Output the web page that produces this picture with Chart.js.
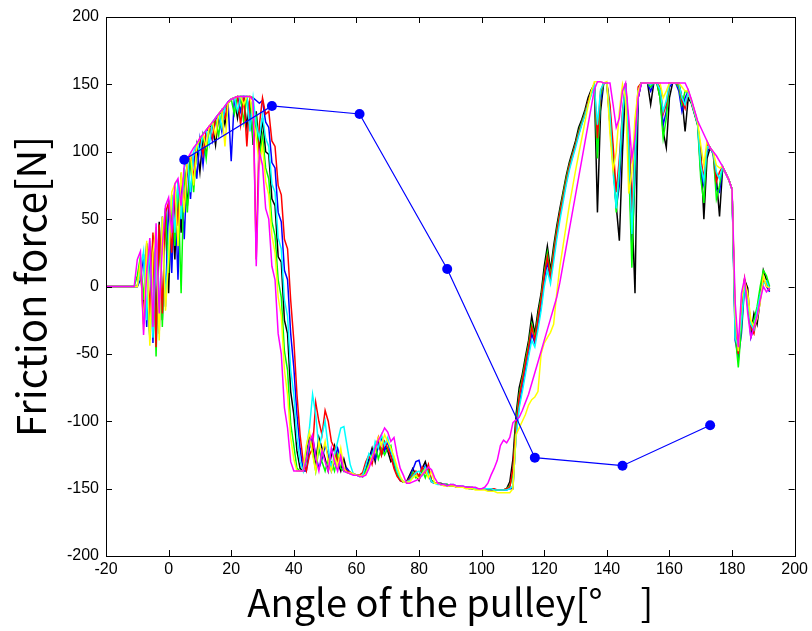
<!DOCTYPE html>
<html>
<head>
<meta charset="utf-8">
<script src="https://cdn.jsdelivr.net/npm/chart.js@4.4.1/dist/chart.umd.min.js"></script>
<style>
  html, body { margin: 0; padding: 0; background: #fff; }
  canvas { display: block; }
</style>
</head>
<body>
<canvas id="chartCanvas" width="812" height="631"></canvas>
<script>
// Angle grid shared by the measured runs: -20, -11, then every degree from -10 to 192
const angles = [-20, -11];
for (let a = -10; a <= 192; a++) angles.push(a);

// Friction force of each run [N], one value per angle (rows of 10 degrees)
const runBlack = [0, 0,
  0, 15, -20, 32, -38, 36, -30, 48, -25, 58,
  -5, 66, 20, 78, 40, 88, 60, 96, 75, 104,
  85, 112, 100, 118, 121, 105, 127, 131, 120, 136,
  139, 140, 125, 141, 141, 118, 141, 105, 130, 100,
  125, 100, 98, 65, 60, 22, 18, -25, -35, -78,
  -95, -122, -135, -137, -125, -110, -118, -130, -112, -120,
  -128, -137, -125, -118, -130, -137, -128, -137, -138, -139,
  -140, -140, -141, -135, -128, -120, -130, -115, -125, -118,
  -122, -130, -128, -138, -143, -145, -145, -140, -135, -140,
  -144, -135, -130, -138, -144, -146, -146, -146, -147, -147,
  -148, -148, -148, -149, -149, -149, -149, -150, -150, -150,
  -150, -150, -150, -151, -151, -151, -151, -151, -150, -145,
  -128, -95, -75, -65, -52, -40, -22, -35, -18, -5,
  15, 30, 12, 30, 45, 58, 70, 82, 92, 100,
  108, 118, 124, 131, 140, 146, 150, 55, 130, 151,
  151, 120, 90, 60, 34, 100, 150, 110, 60, -5,
  140, 151, 151, 151, 135, 151, 151, 140, 115, 103,
  140, 151, 151, 151, 140, 115, 140, 136, 128, 120,
  100, 50, 95, 103, 99, 80, 52, 88, 84, 79,
  72, -30, -55, -20, 5, -1, -35, -20, -28, -10,
  12, 5, -2];

const runBlue = [0, 0,
  0, 5, 24, -30, 30, -42, 40, -35, 52, -15,
  64, 10, 74, 5, 84, 35, 92, 65, 100, 80,
  109, 90, 115, 118, 108, 124, 127, 115, 133, 136,
  93, 140, 141, 130, 141, 141, 120, 140, 138, 136,
  138, 122, 118, 92, 88, 55, 48, 12, 5, -35,
  -60, -95, -120, -137, -137, -120, -112, -125, -135, -128,
  -118, -125, -137, -130, -120, -128, -137, -135, -138, -139,
  -140, -140, -141, -138, -130, -122, -128, -118, -112, -122,
  -115, -125, -133, -140, -144, -145, -145, -142, -136, -130,
  -129, -138, -133, -140, -145, -146, -146, -147, -147, -147,
  -148, -148, -149, -149, -149, -149, -150, -150, -150, -150,
  -150, -150, -151, -151, -151, -151, -151, -151, -151, -150,
  -150, -110, -88, -75, -62, -50, -35, -42, -28, -15,
  5, 18, 5, 22, 38, 52, 65, 77, 88, 96,
  105, 113, 121, 128, 136, 143, 149, 100, 138, 151,
  151, 130, 95, 58, 75, 120, 150, 100, 29, 80,
  140, 151, 151, 151, 145, 151, 151, 145, 120, 130,
  148, 151, 151, 145, 130, 140, 145, 137, 129, 121,
  85, 75, 100, 103, 98, 72, 70, 88, 84, 79,
  72, -40, -52, -35, 0, -10, -38, -30, -22, -5,
  6, 0, -4];

const runGreen = [0, 0,
  8, 22, -10, 28, -40, 38, -52, 44, -30, 56,
  10, 68, 30, 76, -5, 88, 55, 96, 70, 104,
  108, 113, 95, 119, 121, 124, 112, 130, 133, 137,
  139, 128, 141, 141, 122, 141, 141, 110, 125, 95,
  112, 88, 80, 48, 38, 5, -8, -48, -62, -102,
  -118, -135, -137, -137, -130, -115, -122, -137, -120, -130,
  -137, -128, -130, -137, -125, -135, -137, -138, -139, -139,
  -140, -141, -141, -137, -132, -125, -118, -128, -120, -125,
  -120, -118, -130, -139, -143, -145, -145, -144, -138, -142,
  -140, -136, -142, -135, -144, -146, -146, -147, -147, -147,
  -148, -148, -148, -148, -149, -149, -149, -150, -150, -150,
  -150, -150, -150, -150, -151, -151, -151, -151, -150, -148,
  -140, -100, -80, -68, -55, -43, -28, -38, -22, -8,
  10, 25, 8, 26, 42, 55, 68, 80, 90, 98,
  106, 115, 122, 129, 137, 144, 150, 95, 142, 151,
  151, 125, 100, 55, 85, 125, 151, 90, 14, 90,
  145, 151, 151, 151, 148, 151, 151, 140, 110, 125,
  151, 151, 151, 148, 135, 145, 144, 137, 129, 120,
  80, 62, 105, 103, 99, 65, 75, 89, 84, 79,
  72, -35, -60, -30, 2, -15, -32, -25, -15, 0,
  12, 8, 0];

const runRed = [0, 0,
  0, 18, -28, 30, -20, 40, -45, 46, -20, 55,
  62, 25, 72, 45, 82, 60, 92, 98, 80, 105,
  110, 98, 116, 119, 110, 125, 128, 131, 125, 137,
  139, 140, 141, 120, 141, 104, 141, 140, 20, 120,
  140, 128, 130, 108, 104, 75, 68, 35, 28, -10,
  -40, -80, -110, -130, -137, -125, -120, -86, -100, -110,
  -92, -100, -115, -120, -130, -125, -135, -137, -138, -139,
  -140, -140, -138, -130, -125, -132, -120, -112, -125, -115,
  -120, -126, -135, -141, -144, -145, -145, -143, -140, -137,
  -141, -134, -138, -132, -145, -146, -146, -147, -147, -148,
  -147, -148, -148, -148, -149, -149, -149, -149, -150, -150,
  -150, -150, -150, -150, -150, -151, -151, -151, -150, -149,
  -135, -105, -82, -70, -57, -45, -30, -40, -24, -10,
  8, 22, 6, 24, 40, 54, 66, 78, 89, 97,
  105, 114, 121, 128, 137, 144, 150, 110, 145, 151,
  151, 135, 105, 70, 95, 130, 151, 115, 50, 110,
  148, 151, 151, 151, 150, 151, 151, 148, 128, 135,
  151, 151, 151, 150, 138, 132, 145, 138, 130, 122,
  95, 80, 105, 102, 100, 78, 85, 89, 84, 79,
  72, -25, -50, -15, 6, -8, -30, -35, -20, -8,
  5, 2, -3];

const runCyan = [0, 0,
  0, 12, 26, -25, 34, -38, 42, -28, 50, -10,
  30, 68, 40, 78, 50, 88, 94, 70, 100, 106,
  100, 113, 116, 105, 122, 125, 128, 118, 134, 137,
  139, 140, 130, 141, 141, 141, 115, 140, 120, 110,
  127, 110, 104, 76, 70, 36, 28, -10, -22, -62,
  -80, -112, -130, -137, -120, -105, -80, -95, -120, -110,
  -100, -120, -135, -125, -115, -105, -104, -118, -132, -139,
  -140, -141, -140, -133, -124, -128, -115, -120, -110, -118,
  -112, -122, -128, -137, -142, -145, -145, -144, -141, -138,
  -137, -140, -134, -139, -145, -146, -147, -147, -147, -148,
  -147, -147, -148, -148, -148, -149, -149, -149, -150, -150,
  -150, -150, -150, -150, -151, -151, -151, -151, -151, -150,
  -148, -112, -90, -78, -65, -52, -40, -45, -32, -18,
  0, 12, 2, 18, 35, 49, 62, 75, 86, 95,
  103, 112, 120, 127, 135, 142, 149, 120, 146, 151,
  151, 128, 85, 58, 90, 128, 151, 105, 39, 100,
  145, 151, 151, 151, 150, 151, 151, 146, 130, 138,
  151, 151, 151, 151, 140, 135, 144, 137, 129, 121,
  90, 78, 104, 103, 99, 85, 80, 89, 84, 79,
  72, -38, -45, -25, 0, -12, -28, -32, -18, -6,
  2, 4, -2];

const runYellow = [0, 0,
  0, 20, -32, 34, -44, 25, 44, -40, 52, -18,
  20, 70, 76, 30, 85, 55, 94, 98, 75, 104,
  110, 113, 104, 119, 122, 112, 128, 131, 104, 136,
  139, 140, 141, 141, 135, 141, 141, 125, 110, 90,
  105, 78, 68, 38, 25, -8, -22, -62, -80, -112,
  -128, -137, -137, -137, -118, -108, -125, -137, -115, -125,
  -115, -130, -137, -126, -133, -120, -135, -138, -138, -139,
  -140, -140, -141, -139, -133, -126, -122, -112, -118, -110,
  -115, -120, -126, -134, -141, -145, -145, -145, -142, -140,
  -143, -139, -136, -142, -137, -146, -146, -147, -148, -148,
  -148, -148, -149, -149, -149, -150, -150, -150, -151, -151,
  -151, -151, -152, -152, -152, -153, -153, -153, -153, -153,
  -150, -110, -105, -100, -95, -88, -84, -82, -78, -50,
  -42, -38, -34, -28, -5, 15, 30, 45, 60, 73,
  86, 98, 110, 122, 134, 145, 152, 152, 152, 151,
  152, 113, 86, 100, 130, 150, 140, 69, 85, 125,
  145, 151, 151, 151, 151, 151, 151, 151, 140, 145,
  151, 151, 151, 151, 148, 145, 145, 138, 130, 122,
  105, 90, 108, 103, 100, 90, 88, 89, 84, 79,
  72, -20, -48, -10, 4, -5, -25, -30, -24, -12,
  8, 0, -1];

const runMagenta = [0, 0,
  20, 26, -36, 10, 36, -30, 47, -20, 30, 60,
  66, 40, 76, 80, 60, 90, 95, 99, 103, 106,
  110, 113, 116, 119, 122, 125, 128, 131, 134, 137,
  139, 140, 141, 141, 141, 141, 141, 138, 15, 100,
  90, 58, 50, 15, 5, -35, -50, -90, -105, -130,
  -137, -137, -137, -137, -128, -115, -110, -128, -137, -122,
  -130, -137, -120, -130, -137, -126, -137, -138, -139, -140,
  -140, -141, -141, -140, -135, -128, -120, -114, -110, -105,
  -108, -115, -112, -125, -135, -140, -146, -146, -145, -144,
  -143, -140, -137, -134, -136, -142, -146, -147, -147, -148,
  -147, -147, -148, -148, -148, -149, -149, -149, -149, -150,
  -150, -149, -146, -140, -135, -129, -118, -114, -116, -112,
  -101, -99, -97, -92, -86, -80, -72, -64, -56, -48,
  -40, -32, -24, -16, -8, 3, 16, 29, 42, 55,
  68, 81, 94, 107, 120, 133, 146, 152, 152, 151,
  151, 151, 135, 118, 125, 145, 151, 125, 95, 110,
  140, 151, 151, 151, 151, 151, 151, 151, 151, 151,
  151, 151, 151, 151, 151, 151, 146, 139, 131, 123,
  118, 113, 108, 103, 100, 97, 93, 89, 84, 79,
  72, -12, -45, -5, 6, -20, -38, -30, -22, -10,
  0, -4, -1];

// Model curve (blue with markers)
const modelAngles = [5, 33, 61, 89, 117, 145, 173];
const modelForce = [94, 134, 128, 13, -127, -133, -103];

// Axis ticks
const xTicks = [-20, 0, 20, 40, 60, 80, 100, 120, 140, 160, 180, 200];
const yTicks = [-200, -150, -100, -50, 0, 50, 100, 150, 200];

function toPoints(xs, ys) {
  return xs.map((x, i) => ({ x: x, y: ys[i] }));
}

function runDataset(values, color) {
  return {
    data: toPoints(angles, values),
    borderColor: color,
    borderWidth: 1.5,
    pointRadius: 0,
    tension: 0,
    fill: false
  };
}

// Box round the plot with MATLAB-like inward ticks
const boxPlugin = {
  id: 'box',
  afterDatasetsDraw(chart) {
    const { ctx, chartArea: a, scales: { x, y } } = chart;
    const len = 6;
    ctx.save();
    ctx.strokeStyle = '#000';
    ctx.lineWidth = 1;
    ctx.strokeRect(Math.round(a.left) + 0.5, Math.round(a.top) + 0.5,
      Math.round(a.right - a.left), Math.round(a.bottom - a.top));
    ctx.beginPath();
    x.ticks.forEach(t => {
      const px = Math.round(x.getPixelForValue(t.value)) + 0.5;
      ctx.moveTo(px, a.bottom); ctx.lineTo(px, a.bottom - len);
      ctx.moveTo(px, a.top); ctx.lineTo(px, a.top + len);
    });
    y.ticks.forEach(t => {
      const py = Math.round(y.getPixelForValue(t.value)) + 0.5;
      ctx.moveTo(a.left, py); ctx.lineTo(a.left + len, py);
      ctx.moveTo(a.right, py); ctx.lineTo(a.right - len, py);
    });
    ctx.stroke();
    ctx.restore();
  }
};

const tickFont = { family: "'Liberation Sans', Arial, sans-serif", size: 16 };
const yTitleFont = { family: "'Noto Sans CJK JP', 'Noto Sans', sans-serif", size: 40, lineHeight: 1 };
const xTitleFont = { family: "'Noto Sans CJK JP', 'Noto Sans', sans-serif", size: 38, lineHeight: 1 };

new Chart(document.getElementById('chartCanvas'), {
  type: 'line',
  data: {
    datasets: [
      {
        data: toPoints(modelAngles, modelForce),
        borderColor: '#0000ff',
        borderWidth: 1.2,
        pointRadius: 5,
        pointBackgroundColor: '#0000ff',
        pointBorderColor: '#0000ff',
        pointBorderWidth: 0,
        tension: 0,
        fill: false
      },
      runDataset(runMagenta, '#ff00ff'),
      runDataset(runYellow, '#ffff00'),
      runDataset(runCyan, '#00ffff'),
      runDataset(runRed, '#ff0000'),
      runDataset(runGreen, '#00ff00'),
      runDataset(runBlue, '#0000ff'),
      runDataset(runBlack, '#000000')
    ]
  },
  options: {
    responsive: false,
    animation: false,
    layout: { padding: { left: 0, right: 16, top: 17, bottom: 0 } },
    plugins: { legend: { display: false }, tooltip: { enabled: false } },
    scales: {
      x: {
        type: 'linear',
        min: -20,
        max: 200,
        afterBuildTicks: s => { s.ticks = xTicks.map(v => ({ value: v })); },
        afterFit: s => { s.height = 75; },
        ticks: { color: '#000', font: tickFont, padding: 4, autoSkip: false, maxRotation: 0 },
        grid: { display: false, drawTicks: false },
        border: { display: false },
        title: { display: true, text: 'Angle of the pulley[°\u3000]', color: '#000', font: xTitleFont, padding: { top: 0, bottom: 9 } }
      },
      y: {
        type: 'linear',
        min: -200,
        max: 200,
        afterBuildTicks: s => { s.ticks = yTicks.map(v => ({ value: v })); },
        afterFit: s => { s.width = 106; },
        ticks: { color: '#000', font: tickFont, padding: 7, autoSkip: false },
        grid: { display: false, drawTicks: false },
        border: { display: false },
        title: { display: true, text: 'Friction force[N]', color: '#000', font: yTitleFont, padding: { top: 11, bottom: 0 } }
      }
    }
  },
  plugins: [boxPlugin]
});
</script>
</body>
</html>
